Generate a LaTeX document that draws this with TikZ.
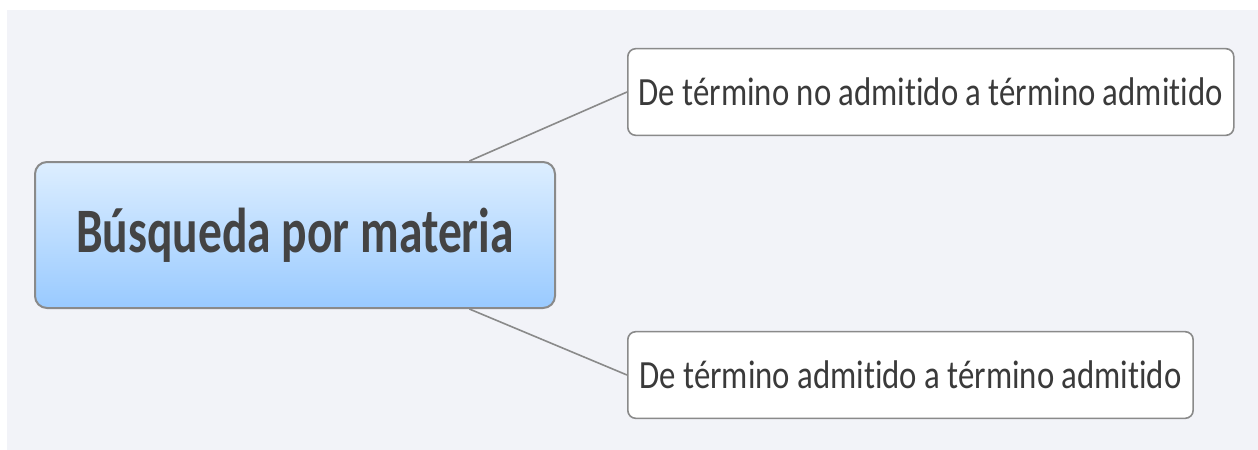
\documentclass[tikz,border=0pt]{standalone}
\usepackage{fontspec}
\setmainfont{Carlito}
\newfontfamily\rootfont[FakeStretch=0.75, Ligatures=NoCommon]{Carlito}
\newfontfamily\leaffont[FakeStretch=0.82, Ligatures=NoCommon]{Carlito}
\usetikzlibrary{positioning}

\definecolor{canvas}{HTML}{F2F3F8}
\definecolor{edgegray}{HTML}{8A8A8A}
\definecolor{inkgray}{HTML}{444444}
\definecolor{leafink}{HTML}{3A3A3A}
\definecolor{rootlight}{HTML}{DDEEFF}
\definecolor{rootdark}{HTML}{99CAFF}

\tikzset{
  root/.style={draw=edgegray, line width=1.5pt, rounded corners=9pt,
    top color=rootlight, bottom color=rootdark, text=inkgray,
    minimum width=390pt, minimum height=109.5pt, inner sep=0pt,
    font=\rootfont\bfseries\fontsize{47.5}{50}\selectfont},
  leaf/.style={draw=edgegray, line width=1.2pt, rounded corners=6pt,
    fill=white, text=leafink, minimum height=65pt, inner sep=7pt,
    anchor=west, font=\leaffont\fontsize{30}{34}\selectfont},
  link/.style={draw=edgegray, line width=1.2pt}
}

\begin{document}
\begin{tikzpicture}[x=0.75pt, y=-0.75pt]
  \useasboundingbox (0,0) rectangle (1258,450);
  \fill[canvas] (7,10) rectangle (1258,450);

  %Define nodes
  \node[root] (topic) at (295,235) {Búsqueda por materia};
  \node[leaf, minimum width=454.5pt] (noadm) at (627,92) {De término no admitido a término admitido};
  \node[leaf, minimum width=424pt] (adm) at (627,375) {De término admitido a término admitido};

  % Connect the nodes
  \draw[link] (topic.23.4) -- (noadm.west);
  \draw[link] (topic.-23.6) -- (adm.west);

\end{tikzpicture}
\end{document}
